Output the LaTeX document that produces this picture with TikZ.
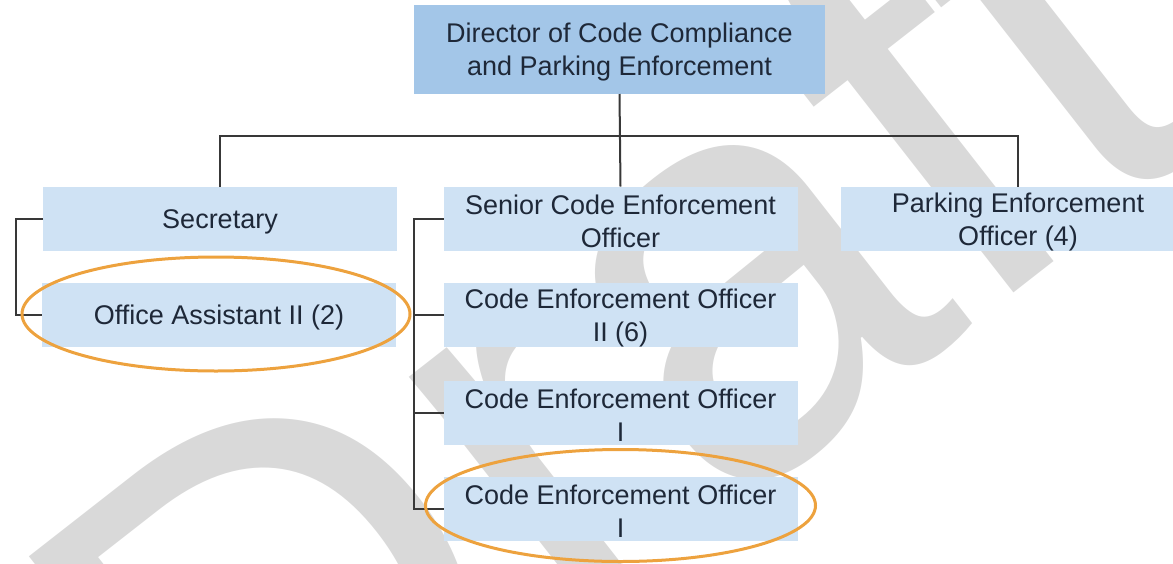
\documentclass[tikz,border=0pt]{standalone}
\usepackage{fontspec}
\setmainfont{Liberation Sans}
\usetikzlibrary{calc}
\definecolor{dirfill}{HTML}{A3C6E8}
\definecolor{boxfill}{HTML}{CFE2F4}
\definecolor{txt}{HTML}{1E2838}
\definecolor{conn}{HTML}{383838}
\definecolor{hlc}{HTML}{EDA23E}
\definecolor{wm}{HTML}{D9D9D9}
\begin{document}
\begin{tikzpicture}[x=1pt,y=-1pt,
  lbl/.style={inner sep=0pt, outer sep=0pt, align=center, text=txt,
    font=\fontsize{27}{33}\selectfont, yshift=-3pt},
  topbox/.style={inner sep=0pt, outer sep=0pt, fill=dirfill,
    minimum width=411pt, minimum height=89pt, label={[lbl]center:#1}},
  rolebox/.style={inner sep=0pt, outer sep=0pt, fill=boxfill,
    minimum width=354pt, minimum height=64pt, label={[lbl]center:#1}},
  link/.style={draw=conn, line width=2pt},
  hl/.style={draw=hlc, line width=3pt},
  watermark/.style={text=wm, font=\fontsize{580}{580}\selectfont}]
\useasboundingbox (0,0) rectangle (1173,563);
\begin{scope}
\clip (0,0) rectangle (1173,563);
\node[watermark, rotate=38] (wmark) at (605,350) {Draft};
\node[topbox={Director of Code Compliance\\and Parking Enforcement}] (dir) at (619.5,49.5) {};
\node[rolebox={Secretary}] (sec) at (220,219) {};
\node[rolebox={Office Assistant II (2)}] (oa) at (219,315) {};
\node[rolebox={Senior Code Enforcement\\Officer}] (sen) at (620.5,218.5) {};
\node[rolebox={Code Enforcement Officer\\II (6)}] (ce2) at (620.5,315) {};
\node[rolebox={Code Enforcement Officer\\I}] (ce1a) at (620.5,412.5) {};
\node[rolebox={Code Enforcement Officer\\I}] (ce1b) at (620.5,508.5) {};
\node[rolebox={Parking Enforcement\\Officer (4)}] (park) at (1018,219) {};
\coordinate (bus) at (619.5,136);
\draw[link] (dir.south) -- (sen.north);
\draw[link] (sec.north) |- (bus) -| (park.north);
\draw[link] (sec.west) -- ++(-27,0) |- (oa.west);
\draw[link] (sen.west) -- ++(-30,0) |- (ce1b.west);
\draw[link] (ce2.west) -- ++(-30,0);
\draw[link] (ce1a.west) -- ++(-30,0);
\draw[hl] ($(oa.center)+(-3,-1)$) ellipse [x radius=194, y radius=57];
\draw[hl] ($(ce1b.center)+(0,-3)$) ellipse [x radius=195, y radius=56];
\end{scope}
\end{tikzpicture}
\end{document}
